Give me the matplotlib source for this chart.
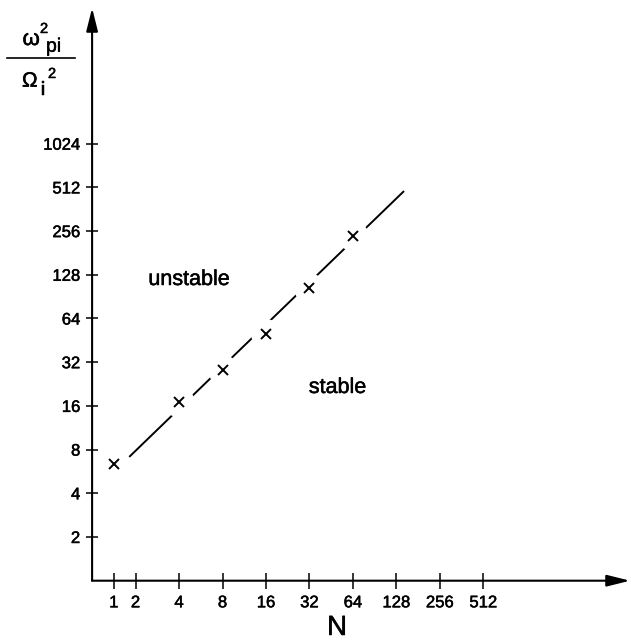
import numpy as np
import matplotlib
matplotlib.use("Agg")
import matplotlib.pyplot as plt
import matplotlib.patheffects as pe
from matplotlib.lines import Line2D

# tick values, both axes are powers of two
n_ticks = [1, 2, 4, 8, 16, 32, 64, 128, 256, 512]
w_ticks = [2, 4, 8, 16, 32, 64, 128, 256, 512, 1024]

# computed points (the x marks)
n_points = [1, 4, 8, 16, 32, 64]
w_points = [6.4, 17.1, 28.3, 49.8, 103, 237]

# stability boundary drawn through them
n_boundary = [1.74, 143]
w_boundary = [7.2, 478]

plt.rcParams['font.family'] = ['Liberation Sans', 'DejaVu Sans']

W, H = 631, 641
# lettering in the original is a bit heavier than Liberation Sans
heavy = [pe.withStroke(linewidth=0.35, foreground='black')]


def px(x, y):
    # pixel position (from top left) -> figure fraction
    return x / W, 1 - y / H


def forward(n):
    # log2 axis, except the drawing squeezes 0..2 into one octave
    n = np.asarray(n, dtype=float)
    return np.where(n < 2, 0.5 * n, np.log2(np.clip(n, 2, None)))


def inverse(u):
    u = np.asarray(u, dtype=float)
    return np.where(u < 1, 2 * u, 2 ** np.clip(u, 1, None))


fig = plt.figure(figsize=(W / 100, H / 100), dpi=100)
ax = fig.add_axes([92.1 / W, 60.3 / H, 537.9 / W, 572.7 / H])
ax.set_xscale('function', functions=(forward, inverse))
ax.set_yscale('log', base=2)
ax.set_xlim(0, 2 ** 12.374)
ax.set_ylim(1, 2 ** 13.105)

for s in ax.spines.values():
    s.set_visible(False)

arrow = dict(arrowstyle='-|>,head_length=1.4,head_width=0.35', color='black',
             lw=1.5, shrinkA=0, shrinkB=0, mutation_scale=10)
ax.annotate('', xy=(1, 0), xytext=(0, 0), xycoords='axes fraction',
            arrowprops=arrow, annotation_clip=False)
ax.annotate('', xy=(0, 1), xytext=(0, 0), xycoords='axes fraction',
            arrowprops=arrow, annotation_clip=False)

ax.set_xticks(n_ticks, [str(n) for n in n_ticks])
ax.set_yticks(w_ticks, [str(w) for w in w_ticks])
ax.minorticks_off()
ax.tick_params(axis='x', direction='inout', length=11, width=1.1, pad=5, labelsize=12)
ax.tick_params(axis='y', direction='inout', length=8, width=1.1, pad=4.5, labelsize=12)
for lab in ax.get_xticklabels() + ax.get_yticklabels():
    lab.set_path_effects(heavy)

# boundary line, broken around each mark
ax.plot(n_boundary, w_boundary, color='black', lw=1.4, zorder=2)
ax.plot(n_points, w_points, ls='none', marker='o', ms=22, mfc='white', mec='none', zorder=3)
ax.plot(n_points, w_points, ls='none', marker='x', ms=7.5, mew=1.4, color='black', zorder=4)

texts = [
    fig.text(*px(189, 285), 'unstable', ha='center', va='baseline', fontsize=15.5),
    fig.text(*px(337.5, 393), 'stable', ha='center', va='baseline', fontsize=15.5),
    fig.text(*px(337, 635), 'N', ha='center', va='baseline', fontsize=20),
    # y label: omega_pi^2 / Omega_i^2
    fig.text(*px(22.5, 45), 'ω', ha='left', va='baseline', fontsize=16),
    fig.text(*px(40, 33), '2', ha='left', va='baseline', fontsize=10.5),
    fig.text(*px(46, 51.7), 'pi', ha='left', va='baseline', fontsize=14),
    fig.text(*px(22, 86.7), 'Ω', ha='left', va='baseline', fontsize=15),
    fig.text(*px(40.5, 95), 'i', ha='left', va='baseline', fontsize=14),
    fig.text(*px(48, 78), '2', ha='left', va='baseline', fontsize=10.5),
]
for t in texts:
    t.set_path_effects(heavy)

x0, y0 = px(7, 57.7)
x1, _ = px(75, 57.7)
fig.add_artist(Line2D([x0, x1], [y0, y0], color='black', lw=1.2))

fig.savefig('out.png', dpi=100)
